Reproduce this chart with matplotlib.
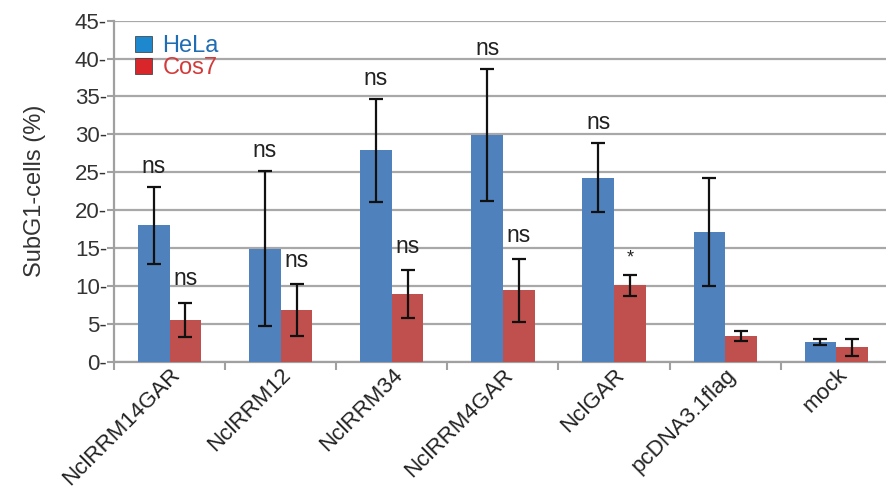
import numpy as np
import matplotlib.pyplot as plt
from matplotlib.patches import Patch

plt.rcParams['font.family'] = ['Liberation Sans', 'DejaVu Sans']

constructs = ["NclRRM14GAR", "NclRRM12", "NclRRM34", "NclRRM4GAR",
              "NclGAR", "pcDNA3.1flag", "mock"]
hela = [18.0, 14.9, 27.9, 29.9, 24.3, 17.1, 2.6]
hela_err = [5.1, 10.2, 6.8, 8.7, 4.6, 7.1, 0.45]
cos7 = [5.5, 6.8, 8.9, 9.4, 10.1, 3.4, 1.9]
cos7_err = [2.3, 3.4, 3.2, 4.1, 1.4, 0.7, 1.15]
hela_sig = ["ns", "ns", "ns", "ns", "ns", "", ""]
cos7_sig = ["ns", "ns", "ns", "ns", "*", "", ""]

blue = "#4f81bd"
red = "#c0504d"

fig = plt.figure(figsize=(8.87, 4.96), dpi=100)
ax = fig.add_axes([0.1285, 0.2708, 0.877, 0.6875])

x = np.arange(len(constructs))
w = 0.285
ax.bar(x - w / 2, hela, w, color=blue, zorder=3)
ax.bar(x + w / 2, cos7, w, color=red, zorder=3)
ax.errorbar(x - w / 2, hela, yerr=hela_err, fmt="none", ecolor="#111111",
            elinewidth=1.6, capsize=5, capthick=1.6, zorder=4)
ax.errorbar(x + w / 2, cos7, yerr=cos7_err, fmt="none", ecolor="#111111",
            elinewidth=1.6, capsize=5, capthick=1.6, zorder=4)

# significance marks above the error bars
for i in range(len(constructs)):
    if hela_sig[i]:
        ax.text(x[i] - w / 2, hela[i] + hela_err[i] + 1.2, hela_sig[i],
                ha="center", va="bottom", fontsize=16.5, color="#222222")
    if cos7_sig[i]:
        star = cos7_sig[i] == "*"
        ax.text(x[i] + w / 2, cos7[i] + cos7_err[i] + (1.0 if star else 1.6),
                cos7_sig[i], ha="center", va="bottom",
                fontsize=13 if star else 16.5, color="#222222")

ax.set_xlim(-0.5, 6.5)
ax.set_ylim(0, 45)
ax.set_yticks(np.arange(0, 46, 5))
ax.set_yticklabels([f"{v}-" for v in range(0, 46, 5)], fontsize=16,
                   color="#333333")
ax.tick_params(axis="y", length=5, width=1.5, color="#a0a0a0", pad=0)
ax.set_xticks(np.arange(-0.5, 7, 1), minor=False)
ax.set_xticklabels([])
ax.set_xticks(x, minor=True)
ax.set_xticklabels(constructs, minor=True, rotation=45, ha="right",
                   rotation_mode="anchor", fontsize=16, color="#222222")
ax.tick_params(axis="x", which="major", length=6, color="#a0a0a0", width=1.5)
ax.tick_params(axis="x", which="minor", length=0, pad=2)

ax.yaxis.grid(True, color="#a8a8a8", linewidth=1.6, zorder=0)
ax.set_axisbelow(True)
for s in ["top", "right"]:
    ax.spines[s].set_visible(False)
for s in ["left", "bottom"]:
    ax.spines[s].set_color("#a0a0a0")
    ax.spines[s].set_linewidth(1.6)

ax.set_ylabel("SubG1-cells (%)", fontsize=17, color="#333333")
ax.yaxis.set_label_coords(-0.088, 0.5)

handles = [Patch(facecolor="#1e88cf", edgecolor="#333333", linewidth=0.5),
           Patch(facecolor="#d9262b", edgecolor="#333333", linewidth=0.5)]
leg = ax.legend(handles, ["HeLa", "Cos7"], loc="upper left",
                bbox_to_anchor=(0.0, 1.02), frameon=False, fontsize=17,
                handlelength=0.7, handleheight=0.7, handletextpad=0.45,
                labelspacing=0.0)
leg.get_texts()[0].set_color("#1f6db3")
leg.get_texts()[1].set_color("#d43a3a")

fig.savefig("out.png", dpi=100)
